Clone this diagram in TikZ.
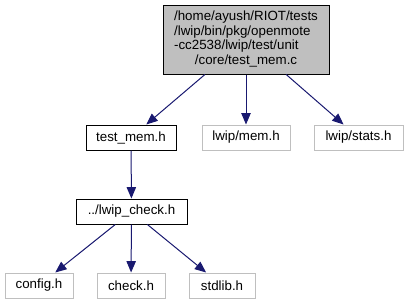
\documentclass[tikz,border=0pt]{standalone}
\usepackage{fontspec}
\setmainfont{Liberation Sans}
\usetikzlibrary{arrows.meta}
\definecolor{rootgray}{HTML}{BFBFBF}
\definecolor{sysgray}{HTML}{BFBFBF}
\definecolor{incblue}{HTML}{191970}

\begin{document}
\begin{tikzpicture}[x=0.75pt,y=-0.75pt,font=\fontsize{10}{11}\selectfont]
          \tikzstyle{hdr}=[draw=black,line width=0.75pt,minimum height=18.75pt,inner sep=0pt]
          \tikzstyle{sys}=[hdr,draw=sysgray]
          \tikzstyle{inc}=[draw=incblue,line width=0.75pt,-{Triangle[length=8.5pt,width=7pt]}]
          \useasboundingbox (0,0) rectangle (409,305);
          % the file itself
          \node[hdr,fill=rootgray,minimum width=124.5pt,minimum height=51.75pt] (src) at (246,39.5)
            {\begin{tabular}{@{}l@{}}/home/ayush/RIOT/tests\\/lwip/bin/pkg/openmote\\-cc2538/lwip/test/unit\\\multicolumn{1}{@{}c@{}}{/core/test\_mem.c}\end{tabular}};
          % direct includes
          \node[hdr,minimum width=67.5pt] (tmem) at (131,137.5) {test\_mem.h};
          \node[sys,minimum width=66pt] (mem) at (246,137.5) {lwip/mem.h};
          \node[sys,minimum width=66.75pt] (stats) at (358.5,137.5) {lwip/stats.h};
          % second level
          \node[hdr,minimum width=83.25pt] (chk) at (131.5,211.5) {../lwip\_check.h};
          \node[sys,minimum width=51pt] (cfg) at (39,285.5) {config.h};
          \node[sys,minimum width=51pt] (check) at (131,285.5) {check.h};
          \node[sys,minimum width=49.5pt] (stdlib) at (222,285.5) {stdlib.h};
          \draw[inc] (src) -- (tmem);
          \draw[inc] (src) -- (mem);
          \draw[inc] (src) -- (stats);
          \draw[inc] (tmem) -- (chk);
          \draw[inc] (chk) -- (cfg);
          \draw[inc] (chk) -- (check);
          \draw[inc] (chk) -- (stdlib);
      \end{tikzpicture}
\end{document}
